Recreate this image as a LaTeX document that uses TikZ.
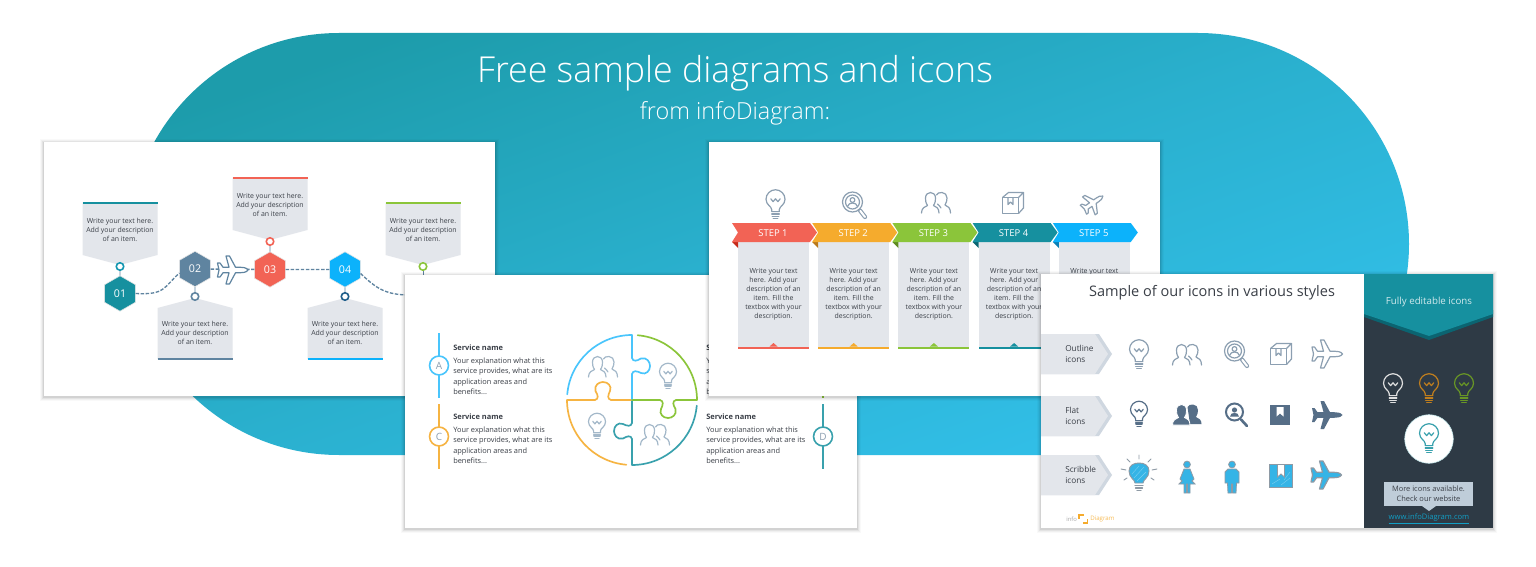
\documentclass[tikz,border=0pt]{standalone}
\usepackage{fontspec}
\setmainfont{Open Sans}
\newfontfamily\lightf{Open Sans Light}
\usetikzlibrary{shapes.geometric,calc}
\definecolor{cRed}{HTML}{F26355}\definecolor{cRedD}{HTML}{C62A1A}
\definecolor{cOrg}{HTML}{F5AB2D}\definecolor{cOrgD}{HTML}{B9791C}
\definecolor{cGrn}{HTML}{8BC53A}\definecolor{cGrnD}{HTML}{5F8A20}
\definecolor{cTeal}{HTML}{16909F}\definecolor{cTealD}{HTML}{0B6471}
\definecolor{cSky}{HTML}{0CB2FB}\definecolor{cSkyD}{HTML}{0A7FB5}
\definecolor{cSlate}{HTML}{5F84A0}\definecolor{cNavy}{HTML}{1F5E8A}
\definecolor{cPanel}{HTML}{E3E6EB}\definecolor{cText}{HTML}{3A3F47}
\definecolor{cIcon}{HTML}{8C9FB1}\definecolor{cIconL}{HTML}{A3B8C9}
\definecolor{cFlat}{HTML}{566E87}\definecolor{cDark}{HTML}{2E3A45}
\definecolor{cScr}{HTML}{35B4E6}\definecolor{cScrE}{HTML}{8E9AA5}
\definecolor{bgA}{HTML}{1D9CAB}\definecolor{bgM}{HTML}{2AB0CE}\definecolor{bgB}{HTML}{32C0EA}
\newcommand\Fz[2]{\fontsize{#1}{#2}\selectfont}
\newcommand\CardBox[4]{%
  \foreach \d/\o in {4/.025,3/.035,2/.05,1/.07}
    \fill[black,opacity=\o] (#1-\d,#2-\d+1) rectangle (#3+\d,#4+\d+1);
  \fill[white] (#1,#2) rectangle (#3,#4);}
\newcommand\BulbI[4]{\begin{scope}[shift={(#1,#2)},scale=#3,draw=#4,line width=.9pt,line cap=round,line join=round]
  \draw (-4,8) -- (-4,6) .. controls (-4,2.5) and (-10,1) .. (-10,-5) .. controls (-10,-10.5) and (-5.5,-15) .. (0,-15) .. controls (5.5,-15) and (10,-10.5) .. (10,-5) .. controls (10,1) and (4,2.5) .. (4,6) -- (4,8) -- cycle;
  \draw (-5,-5.5) -- (-2.5,-2.5) -- (0,-5.5) -- (2.5,-2.5) -- (5,-5.5);
  \draw (-4,10.5) -- (4,10.5) (-3.5,12.8) -- (3.5,12.8) (-2.5,15) -- (2.5,15);
\end{scope}}
\newcommand\PeopleI[4]{\begin{scope}[shift={(#1,#2)},scale=#3,draw=#4,line width=.9pt,line cap=round,line join=round]
  \draw (-14.5,10) .. controls (-14.5,5) and (-11,3.5) .. (-8.5,2.5) .. controls (-10.5,-0.5) and (-10.5,-3) .. (-10.5,-5) .. controls (-10.5,-8.5) and (-8,-10.5) .. (-5.5,-10.5) .. controls (-3,-10.5) and (-0.5,-8.5) .. (-0.5,-5) .. controls (-0.5,-3) and (-0.5,-0.5) .. (-2.5,2.5) .. controls (0,3.5) and (3,5) .. (3,10);
  \draw (0.5,-8) .. controls (1.5,-10) and (3,-10.5) .. (6,-10.5) .. controls (9,-10.5) and (11,-8) .. (11,-5) .. controls (11,-2.5) and (10.5,-0.5) .. (9,2) .. controls (12,3) and (14.5,5) .. (14.5,10);
  \draw (1.5,1) .. controls (2.5,2) and (4,3) .. (5,5);
\end{scope}}
\newcommand\MagI[4]{\begin{scope}[shift={(#1,#2)},scale=#3,line cap=round,line join=round]
  \draw[#4,line width=3.2pt] (6,6.5) -- (11,13);
  \draw[white,line width=1.5pt] (6.3,6.9) -- (11,13);
  \draw[#4,line width=.9pt,fill=white] (-1.5,-2) circle (10);
  \draw[#4,line width=.9pt] (-1.5,-2) circle (7);
  \draw[#4,line width=.9pt] (-1.5,-4) circle (2.4);
  \draw[#4,line width=.9pt] (-6.5,2.5) .. controls (-6,0) and (-3.5,-1) .. (-1.5,-1) .. controls (0.5,-1) and (3,0) .. (3.5,2.5);
\end{scope}}
\newcommand\BoxI[4]{\begin{scope}[shift={(#1,#2)},scale=#3,draw=#4,line width=.9pt,line join=round]
  \draw (-10.5,-5.5) rectangle (5.5,10.5);
  \draw (-10.5,-5.5) -- (-4.5,-10.5) -- (10.5,-10.5) -- (5.5,-5.5);
  \draw (10.5,-10.5) -- (10.5,5) -- (5.5,10.5);
  \draw (-5,-5.5) -- (-5,1.5) -- (-2.5,-1) -- (0,1.5) -- (0,-5.5);
\end{scope}}
\newcommand\PlanePath{(15.5,0) .. controls (14,-2.5) and (10,-2.8) .. (7,-2.8) -- (3,-2.8) -- (-3,-14) -- (-6.5,-14) -- (-3.5,-2.8) -- (-9.5,-2.8) -- (-12.5,-7) -- (-15,-7) -- (-13.5,0) -- (-15,7) -- (-12.5,7) -- (-9.5,2.8) -- (-3.5,2.8) -- (-6.5,14) -- (-3,14) -- (3,2.8) -- (7,2.8) .. controls (10,2.8) and (14,2.5) .. (15.5,0) -- cycle}
\newcommand\PlaneI[6]{\begin{scope}[shift={(#1,#2)},rotate=#4,scale=#3,line join=round]
  \path[#5,#6,line width=.9pt] \PlanePath;
\end{scope}}
\newcommand\PuzKnob[4]{\draw[#4,shift={(#1,#2)},rotate=#3] (0,0) .. controls (1,4) and (5,3) .. (9,0.5) .. controls (15,-1) and (18,4) .. (18,8) .. controls (18,13) and (14,17) .. (9,15) .. controls (5,13) and (1,12) .. (0,16);}
\newcommand\ServiceText[3]{%
  \node[svtitle] (#3t) at (#1,#2) {\textbf{Service name}};
  \node[svbody] (#3b) at (#1,#2+15) {Your explanation what this\\service provides, what are its\\application areas and\\benefits...};}
\tikzset{
  svtitle/.style={anchor=west,inner sep=0,text=cText,font=\Fz{5.6}{7}},
  svbody/.style={anchor=north west,inner sep=0,yshift=4pt,align=left,text=cText,font=\Fz{5.55}{7.7}},
  calloutt/.style={inner sep=0,align=center,text=cText,font=\Fz{5.2}{6.75}},
  steptxt/.style={inner sep=0,align=center,text=cText,font=\Fz{5.2}{6.75}},
  hexn/.style={regular polygon,regular polygon sides=6,shape border rotate=30,minimum size=26.5pt,inner sep=0,draw=white!80!gray,line width=.4pt,text=white,font=\Fz{8}{9}},
  ringn/.style={circle,fill=white,minimum size=5.6pt,inner sep=0,line width=1.2pt},
  dashline/.style={cSlate,line width=1pt,dash pattern=on 2.6pt off 1.2pt},
  lettern/.style={circle,fill=white,minimum size=14.2pt,inner sep=0,line width=1.2pt,text=cIcon,font=\Fz{7.5}{9}},
  chev/.style={inner sep=0,anchor=west,align=left,text=cText,font=\Fz{6.2}{8.6}},
}
\begin{document}
\begin{tikzpicture}[x=.75pt,y=-.75pt]
\useasboundingbox (0,0) rectangle (1536,567);
\fill[white] (0,0) rectangle (1536,567);
% background
\shade[top color=bgA,bottom color=bgB,middle color=bgM,shading angle=20]
  (339,33) -- (1198,33) arc[start angle=-90,end angle=90,radius=211] -- (339,455) arc[start angle=90,end angle=270,radius=211] -- cycle;
\node[text=white,inner sep=0,font=\lightf\Fz{26.8}{30}] (title) at (735,73.5) {Free sample diagrams and icons};
\node[text=white,inner sep=0,font=\lightf\Fz{17.6}{20}] (subtitle) at (735,113.5) {from infoDiagram:};

% ---------- card 1
\CardBox{44}{142}{495}{396}
\foreach \cx/\cc/\nm/\ty in {120/cTeal/a/203,270/cRed/c/178,423/cGrn/e/203}{
  \fill[cPanel] (\cx-37.5,\ty) -- (\cx+37.5,\ty) -- (\cx+37.5,\ty+52) -- (\cx,\ty+62) -- (\cx-37.5,\ty+52) -- cycle;
  \draw[\cc,line width=1.1pt] (\cx-37.5,\ty) -- (\cx+37.5,\ty);
  \node[calloutt] (txt\nm) at (\cx,\ty+27) {Write your text here.\\Add your description\\of an item.};
}
\foreach \cx/\cc/\nm in {195/cSlate/b,345/cSky/d}{
  \fill[cPanel] (\cx-37.5,359) -- (\cx+37.5,359) -- (\cx+37.5,308) -- (\cx,298) -- (\cx-37.5,308) -- cycle;
  \draw[\cc,line width=1.1pt] (\cx-37.5,359) -- (\cx+37.5,359);
  \node[calloutt] (txt\nm) at (\cx,333) {Write your text here.\\Add your description\\of an item.};
}
\node[hexn,fill=cTeal] (h1) at (120,293.5) {01};
\node[hexn,fill=cSlate] (h2) at (195,269) {02};
\node[hexn,fill=cRed] (h3) at (270,269.5) {03};
\node[hexn,fill=cSky] (h4) at (345,269.5) {04};
\coordinate (hend) at (410,295);
\coordinate (ltop) at (423,280);
\node[ringn,draw=cTeal!80!cSky] (r1) at (120,266.5) {};
\node[ringn,draw=cSlate] (r2) at (195,296.5) {};
\node[ringn,draw=cRed] (r3) at (270,241.5) {};
\node[ringn,draw=cNavy] (r4) at (345,296.5) {};
\node[ringn,draw=cGrn] (r5) at (423,266.5) {};
\draw[cSlate,line width=.5pt] (r1) -- (h1);
\draw[cSlate,line width=.5pt] (r2) -- (h2);
\draw[cSlate,line width=.5pt] (r3) -- (h3);
\draw[cSlate,line width=.5pt] (r4) -- (h4);
\draw[cSlate,line width=.5pt] (r5) -- (ltop);
\draw[dashline] (h1.east) .. controls (165,295) and (163,288) .. ([yshift=-3pt]h2.west);
\draw[dashline] (h2) -- (h3);
\draw[dashline] (h3) -- (h4);
\draw[dashline] ([yshift=-3pt]h4.east) .. controls (376,288) and (385,295) .. (hend);
\PlaneI{232.5}{270}{1}{0}{draw=cSlate}{fill=white}

% ---------- card 2
\CardBox{405}{275}{857}{528}
\foreach \ly/\cc/\nm/\lt/\lx in {333/cSky!75!white/A/A/439,404/cOrg!90!white/C/C/439,404/cTeal!85!white/D/D/823,333/cGrn/B/B/823}{
  \coordinate (l\nm a) at (\lx,\ly);
  \coordinate (l\nm b) at (\lx,\ly+65);
  \draw[\cc,line width=1.3pt] (l\nm a) -- (l\nm b);
  \node[lettern,draw=\cc] (let\nm) at (\lx,\ly+32.5) {\lt};
}
\ServiceText{453}{348}{svA}
\ServiceText{453}{417}{svC}
\ServiceText{706}{348}{svB}
\ServiceText{706}{417}{svD}
\begin{scope}[shift={(632,400)},line width=1.25pt,line cap=round,line join=round]
  \draw[cTeal!85!white] (5:65) arc[start angle=5,end angle=90,radius=65] -- (0,39);
  \draw[cTeal!85!white] (0,23) -- (0,0);
  \draw[cOrg!90!white] (95:65) arc[start angle=95,end angle=180,radius=65] -- (-37,0);
  \draw[cOrg!90!white] (-21,0) -- (0,0);
  \draw[cSky!75!white] (185:65) arc[start angle=185,end angle=270,radius=65] -- (0,-42);
  \draw[cSky!75!white] (0,-26) -- (0,0);
  \draw[cGrn] (275:65) arc[start angle=275,end angle=360,radius=65] -- (44,0);
  \draw[cGrn] (28,0) -- (0,0);
\end{scope}
\begin{scope}[line width=1.25pt,line cap=round]
  \PuzKnob{632}{358}{0}{cSky!75!white}
  \PuzKnob{676}{400}{-90}{cGrn}
  \PuzKnob{632}{439}{180}{cTeal!85!white}
  \PuzKnob{595}{400}{90}{cOrg!90!white}
\end{scope}
\PeopleI{603}{367}{1}{cIconL}
\BulbI{668}{376}{.85}{cIconL}
\BulbI{597}{426}{.85}{cIconL}
\PeopleI{655}{435}{1}{cIconL}

% ---------- card 3
\CardBox{709}{142}{1160}{396}
\foreach \i/\cc/\dk/\x in {1/cRed/cRedD/732,2/cOrg/cOrgD/812.2,3/cGrn/cGrnD/892.4,4/cTeal/cTealD/972.6,5/cSky/cSkyD/1052.8}{
  \fill[cPanel] (\x+6,242) rectangle (\x+77,349);
  \fill[\dk] (\x,242) -- (\x+6,242) -- (\x+6,248) -- cycle;
  \fill[\cc] (\x,223) -- (\x+78,223) -- (\x+85,232.5) -- (\x+78,242) -- (\x,242) -- (\x+6,232.5) -- cycle;
  \node[inner sep=0,text=white,font=\Fz{7.1}{8}] (stp\i) at (\x+41,233) {STEP \i};
  \fill[\cc] (\x+6,346.5) rectangle (\x+77,349);
  \fill[\cc] (\x+37.5,346.5) -- (\x+41.5,343) -- (\x+45.5,346.5) -- cycle;
  \node[steptxt] (stx\i) at (\x+41.5,294.5) {Write your text\\here. Add your\\description of an\\item. Fill the\\textbox with your\\description.};
}
\BulbI{775.5}{204}{.95}{cIcon}
\MagI{854}{204}{1}{cIcon}
\PeopleI{936}{203}{1}{cIcon}
\BoxI{1013}{203}{1}{cIcon}
\PlaneI{1093}{203}{.78}{35}{draw=cIcon}{fill=white}

% ---------- card 4
\CardBox{1041}{274}{1493}{528}
\fill[cDark] (1364,274) rectangle (1493,528);
\fill[cTealD] (1364,317) -- (1429,340) -- (1493,317) -- (1493,310) -- (1364,310) -- cycle;
\fill[cTeal] (1364,274) -- (1493,274) -- (1493,314) -- (1429,336) -- (1364,314) -- cycle;
\node[inner sep=0,text=white!80!cTeal,font=\Fz{7.3}{9}] (fully) at (1429,302) {Fully editable icons};
\node[inner sep=0,text=cText,font=\Fz{10.9}{13}] (s4title) at (1212,293) {Sample of our icons in various styles};
\foreach \ty/\nm/\lab in {334/o/Outline\\icons,396/f/Flat\\icons,455/s/Scribble\\icons}{
  \fill[cPanel!85!cSlate] (1041,\ty) -- (1099,\ty) -- (1112,\ty+20) -- (1099,\ty+40) -- (1041,\ty+40) -- cycle;
  \fill[cPanel] (1041,\ty) -- (1095,\ty) -- (1108,\ty+20) -- (1095,\ty+40) -- (1041,\ty+40) -- cycle;
  \node[chev] (chv\nm) at (1065,\ty+20) {\lab};
}
% outline row
\BulbI{1139}{354}{.95}{cIcon}
\PeopleI{1187}{355}{1}{cIcon}
\MagI{1236}{353}{1}{cIcon}
\BoxI{1281}{354}{1}{cIcon}
\PlaneI{1327}{354}{1}{0}{draw=cIcon}{fill=white}
% flat row
\BulbI{1139}{414}{.85}{cFlat}
\begin{scope}[shift={(1187,415)},cFlat]
  \fill (0.5,-8) .. controls (1.5,-10) and (3,-10.5) .. (6,-10.5) .. controls (9,-10.5) and (11,-8) .. (11,-5) .. controls (11,-2.5) and (10.5,-0.5) .. (9,2) .. controls (12,3) and (14.5,5) .. (14.5,9) -- (3,9) -- cycle;
  \draw[white,line width=.6pt,fill=cFlat] (-14.5,10) .. controls (-14.5,5) and (-11,3.5) .. (-8.5,2.5) .. controls (-10.5,-0.5) and (-10.5,-3) .. (-10.5,-5) .. controls (-10.5,-8.5) and (-8,-10.5) .. (-5.5,-10.5) .. controls (-3,-10.5) and (-0.5,-8.5) .. (-0.5,-5) .. controls (-0.5,-3) and (-0.5,-0.5) .. (-2.5,2.5) .. controls (0,3.5) and (3,5) .. (3,10) -- cycle;
\end{scope}
\begin{scope}[shift={(1236,414)},line cap=round]
  \draw[cFlat,line width=2pt] (5,5.5) -- (11,12);
  \draw[cFlat,line width=1.5pt,fill=white] (-1.5,-2) circle (8.5);
  \fill[cFlat] (-1.5,-4) circle (2.6);
  \fill[cFlat] (-6,2.5) .. controls (-6,-.5) and (-3.5,-1) .. (-1.5,-1) .. controls (0.5,-1) and (3,-.5) .. (3,2.5) -- cycle;
\end{scope}
\begin{scope}[shift={(1280,415)}]
  \fill[cFlat] (-10,-10) rectangle (10,10);
  \fill[white] (-3.5,-8) -- (-3.5,1.5) -- (0,-1.5) -- (3.5,1.5) -- (3.5,-8) -- cycle;
\end{scope}
\PlaneI{1327}{415}{1}{0}{fill=cFlat}{draw=none}
% scribble row
\begin{scope}[shift={(1139,477)},scale=1,line cap=round]
  \draw[cScrE,line width=.7pt,fill=cScr] (-4,6) .. controls (-4,2.5) and (-10,1) .. (-10,-6) .. controls (-10,-11.5) and (-5.5,-14) .. (0,-14) .. controls (5.5,-14) and (10,-11.5) .. (10,-6) .. controls (10,1) and (4,2.5) .. (4,6) -- cycle;
  \draw[white,opacity=.35,line width=.3pt] (-7,-3) -- (0,-11) (-5,1) -- (5,-10) (-2,4) -- (7,-5);
  \draw[cScrE,line width=.9pt] (-4,8.5) -- (4,8.5) (-3.5,11) -- (3.5,11) (-2,13.5) -- (2,13.5);
  \draw[cScrE,line width=.7pt] (0,-18) -- (0,-22) (-9,-15) -- (-12,-18) (9,-15) -- (12,-18) (-13,-7) -- (-18,-8) (13,-7) -- (18,-8) (-12,1) -- (-15,3) (12,1) -- (15,3);
\end{scope}
\begin{scope}[shift={(1187,477)},draw=cScrE,line width=.6pt,fill=cScr]
  \filldraw (0,-12.5) circle (3.4);
  \filldraw (-3,-8) -- (3,-8) -- (7,2) -- (5,4) -- (8,7) -- (3,7) -- (3,16) -- (.6,16) -- (.6,7) -- (-.6,7) -- (-.6,16) -- (-3,16) -- (-3,7) -- (-8,7) -- (-5,4) -- (-7,2) -- cycle;
\end{scope}
\begin{scope}[shift={(1232,477)},draw=cScrE,line width=.6pt,fill=cScr]
  \filldraw (0,-12.5) circle (3.4);
  \filldraw (-4,-8) -- (4,-8) -- (7,-5) -- (7,6) -- (4.5,6) -- (4,16) -- (.6,16) -- (.6,7) -- (-.6,7) -- (-.6,16) -- (-4,16) -- (-4.5,6) -- (-7,6) -- (-7,-5) -- cycle;
\end{scope}
\begin{scope}[shift={(1281,476)}]
  \draw[cScrE,line width=1pt,fill=cScr] (-11.5,-11.5) rectangle (11.5,11.5);
  \draw[white,opacity=.35,line width=.3pt] (-9,8) -- (-1,3) (0,9) -- (9,2) (3,4) -- (9,-4);
  \draw[cScrE,line width=.6pt,fill=white] (-3.5,-11.5) -- (-3.5,1) -- (0,-2) -- (3.5,1) -- (3.5,-11.5) -- cycle;
\end{scope}
\PlaneI{1326}{475}{1}{0}{fill=cScr}{draw=cScrE}
% dark panel icons
\BulbI{1393}{388}{.95}{white!75!gray}
\BulbI{1429}{388}{.95}{cOrgD!90!cOrg}
\BulbI{1464}{388}{.95}{cGrnD!80!cGrn}
\node[circle,fill=white,draw=white!70!cTeal,line width=.4pt,minimum size=36.5pt,inner sep=0] (whitec) at (1429,439) {};
\BulbI{1429}{438}{.95}{cTeal!85!white}
\fill[cIconL!70!white] (1422,506) -- (1436,506) -- (1429,511) -- cycle;
\node[fill=cIconL!70!white,minimum width=66.5pt,minimum height=18pt,inner sep=0,align=center,text=cText,font=\Fz{5.6}{7.6}] (more) at (1428.5,494) {More icons available.\\Check our website};
\node[inner sep=0,text=cTeal!60!cSky,font=\Fz{5.7}{7}] (link) at (1429,519) {\underline{www.infoDiagram.com}};
% logo
\node[inner sep=0,text=gray!70,anchor=west,font=\Fz{4.4}{5}] (logoa) at (1066,519) {info};
\node[inner sep=0,text=cOrg!80!white,anchor=west,font=\Fz{4.6}{5}] (logob) at (1090,519) {Diagram};
\draw[cOrg,line width=1.3pt] (1079,519) -- (1079,515) -- (1084,515);
\draw[cOrg,line width=1.3pt] (1083,523) -- (1087.5,523) -- (1087.5,519);
\end{tikzpicture}
\end{document}
